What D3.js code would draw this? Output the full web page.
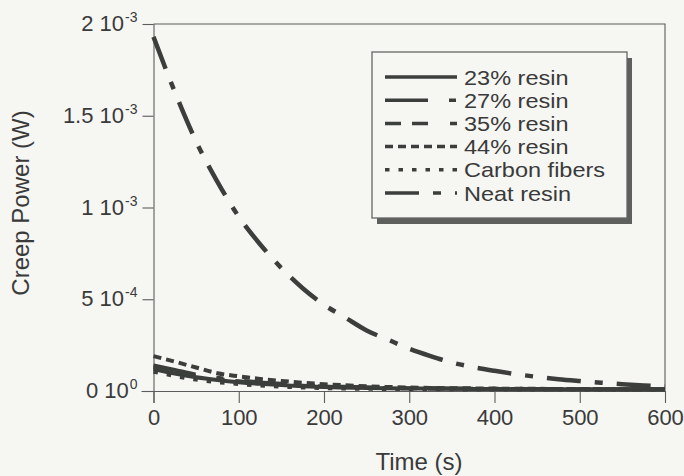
<!DOCTYPE html>
<html>
<head>
<meta charset="utf-8">
<script src="https://cdn.jsdelivr.net/npm/d3@7"></script>
<style>
  body { margin: 0; background: #f6f6f3; }
  svg { display: block; }
  text { font-family: "Liberation Sans", Arial, Helvetica, sans-serif; fill: #3a3a3a; }
</style>
</head>
<body>
<svg id="chart" width="684" height="476"></svg>
<script>
// Creep power versus time for several resin contents
const times = [0, 25, 50, 75, 100, 125, 150, 175, 200, 225, 250, 275, 300,
               325, 350, 375, 400, 425, 450, 475, 500, 525, 550, 575, 600];

const neatResin = [1.93e-3, 1.63e-3, 1.36e-3, 1.14e-3, 0.95e-3, 0.80e-3, 0.67e-3, 0.56e-3, 0.47e-3,
                   0.40e-3, 0.33e-3, 0.28e-3, 0.23e-3, 0.19e-3, 0.155e-3, 0.13e-3, 0.11e-3, 0.092e-3,
                   0.077e-3, 0.064e-3, 0.054e-3, 0.045e-3, 0.037e-3, 0.030e-3, 0.024e-3];
const resin44 = [0.190e-3, 0.160e-3, 0.128e-3, 0.097e-3, 0.080e-3, 0.066e-3, 0.055e-3, 0.045e-3, 0.037e-3,
                 0.031e-3, 0.026e-3, 0.022e-3, 0.019e-3, 0.017e-3, 0.015e-3, 0.014e-3, 0.013e-3, 0.012e-3,
                 0.012e-3, 0.011e-3, 0.011e-3, 0.010e-3, 0.010e-3, 0.010e-3, 0.010e-3];
const resin35 = [0.130e-3, 0.105e-3, 0.082e-3, 0.066e-3, 0.053e-3, 0.043e-3, 0.035e-3, 0.029e-3, 0.024e-3,
                 0.021e-3, 0.018e-3, 0.016e-3, 0.015e-3, 0.014e-3, 0.013e-3, 0.012e-3, 0.011e-3, 0.011e-3,
                 0.010e-3, 0.010e-3, 0.010e-3, 0.009e-3, 0.009e-3, 0.009e-3, 0.009e-3];
const resin27 = [0.140e-3, 0.115e-3, 0.090e-3, 0.072e-3, 0.058e-3, 0.047e-3, 0.039e-3, 0.032e-3, 0.027e-3,
                 0.023e-3, 0.020e-3, 0.018e-3, 0.016e-3, 0.015e-3, 0.014e-3, 0.013e-3, 0.012e-3, 0.012e-3,
                 0.011e-3, 0.011e-3, 0.010e-3, 0.010e-3, 0.010e-3, 0.010e-3, 0.010e-3];
const resin23 = [0.120e-3, 0.095e-3, 0.075e-3, 0.060e-3, 0.048e-3, 0.039e-3, 0.032e-3, 0.026e-3, 0.022e-3,
                 0.019e-3, 0.017e-3, 0.015e-3, 0.014e-3, 0.013e-3, 0.012e-3, 0.011e-3, 0.011e-3, 0.010e-3,
                 0.010e-3, 0.010e-3, 0.009e-3, 0.009e-3, 0.009e-3, 0.009e-3, 0.009e-3];
const carbonFibers = [0.105e-3, 0.082e-3, 0.062e-3, 0.048e-3, 0.038e-3, 0.030e-3, 0.024e-3, 0.019e-3, 0.016e-3,
                      0.013e-3, 0.012e-3, 0.011e-3, 0.010e-3, 0.009e-3, 0.009e-3, 0.008e-3, 0.008e-3, 0.008e-3,
                      0.008e-3, 0.008e-3, 0.008e-3, 0.008e-3, 0.008e-3, 0.008e-3, 0.008e-3];

const seriesNames = ["23% resin", "27% resin", "35% resin", "44% resin", "Carbon fibers", "Neat resin"];
const seriesValues = [resin23, resin27, resin35, resin44, carbonFibers, neatResin];
const seriesDashes = [null, "43,21,7,21", "16,11,16,22,7,11", "8,5", "4.5,9", "34,14,8,14"];

const xTicks = [0, 100, 200, 300, 400, 500, 600];
const yTicks = [0, 5e-4, 1e-3, 1.5e-3, 2e-3];
const yTickMantissa = ["0", "5", "1", "1.5", "2"];
const yTickExponent = ["0", "-4", "-3", "-3", "-3"];

const ink = "#3b3e3b";
const axisInk = "#5c5c5c";

const svg = d3.select("#chart");
const plot = { left: 153.5, right: 665, top: 24, bottom: 391 };

const x = d3.scaleLinear().domain([0, 600]).range([plot.left, plot.right]);
const y = d3.scaleLinear().domain([0, 2e-3]).range([plot.bottom, plot.top]);

// frame: top and right edges
svg.append("path")
  .attr("d", `M${plot.left},${plot.top}H${plot.right}V${plot.bottom}`)
  .attr("fill", "none").attr("stroke", axisInk).attr("stroke-width", 1.1);

// x axis
const xAxis = svg.append("g")
  .attr("transform", `translate(0,${plot.bottom})`)
  .call(d3.axisBottom(x).tickValues(xTicks).tickSize(12).tickSizeOuter(0).tickPadding(6)
        .tickFormat(d3.format("d")));
xAxis.select(".domain").attr("d", `M${plot.left - 12},0.5H${plot.right}`);

// y axis
const yAxis = svg.append("g")
  .attr("transform", `translate(${plot.left},0)`)
  .call(d3.axisLeft(y).tickValues(yTicks).tickSize(11).tickSizeOuter(0).tickFormat(""));
yAxis.select(".domain").attr("d", `M0.5,${plot.top}V${plot.bottom + 12}`);

[xAxis, yAxis].forEach(g => {
  g.selectAll(".domain").attr("stroke", axisInk).attr("stroke-width", 1.1);
  g.selectAll(".tick line").attr("stroke", axisInk).attr("stroke-width", 1.1);
});
xAxis.selectAll(".tick text")
  .attr("font-size", 22).attr("fill", "#3a3a3a")
  .style("font-family", "'Liberation Sans', Arial, sans-serif");

// y tick labels written as mantissa and power of ten
const yLab = svg.append("g");
const labelRight = plot.left - 16;
yTicks.forEach((v, i) => {
  const exp = yLab.append("text")
    .attr("x", labelRight)
    .attr("y", y(v) - 2)
    .attr("text-anchor", "end")
    .attr("font-size", 14)
    .text(yTickExponent[i]);
  const w = exp.node().getComputedTextLength();
  yLab.append("text")
    .attr("x", labelRight - w - 1)
    .attr("y", y(v) + 7)
    .attr("text-anchor", "end")
    .attr("font-size", 22)
    .text(yTickMantissa[i] + " 10");
});

// axis titles
svg.append("text")
  .attr("x", 419).attr("y", 470)
  .attr("text-anchor", "middle").attr("font-size", 24)
  .text("Time (s)");
svg.append("text")
  .attr("transform", "translate(29,203) rotate(-90)")
  .attr("text-anchor", "middle").attr("font-size", 24)
  .text("Creep Power (W)");

// curves
const line = d3.line()
  .x((d, i) => x(times[i]))
  .y(d => y(d))
  .curve(d3.curveMonotoneX);

const curves = svg.append("g");
seriesValues.forEach((vals, k) => {
  curves.append("path")
    .datum(vals)
    .attr("d", line)
    .attr("fill", "none")
    .attr("stroke", ink)
    .attr("stroke-width", k === 5 ? 4.5 : 4)
    .attr("stroke-dasharray", seriesDashes[k]);
});

// legend with drop shadow
const box = { x: 372, y: 52, w: 255, h: 166 };
const legend = svg.append("g");
legend.append("rect")
  .attr("x", box.x + 5).attr("y", box.y + 6).attr("width", box.w).attr("height", box.h)
  .attr("fill", "#5e605e");
legend.append("rect")
  .attr("x", box.x).attr("y", box.y).attr("width", box.w).attr("height", box.h)
  .attr("fill", "#f6f6f3").attr("stroke", "#666").attr("stroke-width", 1.3);

const rowY = d3.scaleLinear().domain([0, 5]).range([77, 193]);
seriesNames.forEach((name, k) => {
  const cy = rowY(k);
  legend.append("line")
    .attr("x1", 385).attr("x2", 457).attr("y1", cy).attr("y2", cy)
    .attr("stroke", ink).attr("stroke-width", 3.5)
    .attr("stroke-dasharray", seriesDashes[k]);
  legend.append("text")
    .attr("transform", `translate(464,${cy + 7.5}) scale(1.12,1)`)
    .attr("font-size", 21)
    .text(name);
});
</script>
</body>
</html>
